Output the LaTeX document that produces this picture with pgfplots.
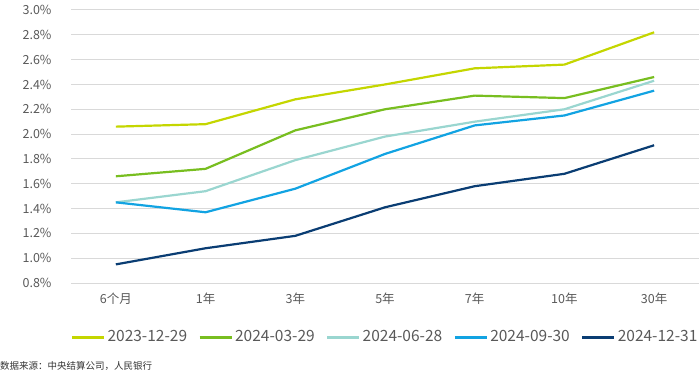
\documentclass[border=0pt]{standalone}
\usepackage{fontspec}
\setmainfont{Noto Sans CJK SC}
\usepackage{pgfplots}
\pgfplotsset{compat=1.18}
\definecolor{c1}{HTML}{C4D600}
\definecolor{c2}{HTML}{78BE20}
\definecolor{c3}{HTML}{9AD6D0}
\definecolor{c4}{HTML}{12A3E2}
\definecolor{c5}{HTML}{0A3D73}
\definecolor{tickgray}{HTML}{595959}
\definecolor{gridgray}{HTML}{D9D9D9}
\pgfplotstableread{
x s1 s2 s3 s4 s5
0 2.06 1.66 1.45 1.45 0.95
1 2.08 1.72 1.54 1.37 1.08
2 2.28 2.03 1.79 1.56 1.18
3 2.40 2.20 1.98 1.84 1.41
4 2.53 2.31 2.10 2.07 1.58
5 2.56 2.29 2.20 2.15 1.68
6 2.82 2.46 2.43 2.35 1.91
}\curves
\begin{document}
\begin{tikzpicture}
\useasboundingbox (-71bp,-92bp) rectangle (629bp,283bp);
\begin{axis}[
  at={(0,0)}, anchor=south west,
  scale only axis, width=628bp, height=273bp,
  xmin=-0.5, xmax=6.5, ymin=0.8, ymax=3.0,
  xtick={0,...,6},
  xticklabels={6个月,1年,3年,5年,7年,10年,30年},
  ytick={0.8,1.0,...,3.01},
  yticklabel={\pgfmathprintnumber[fixed,precision=1,zerofill]{\tick}\%},
  /pgf/number format/assume math mode=true,
  axis line style={draw=none},
  major tick length=0pt,
  ymajorgrids, grid style={gridgray, line width=1bp},
  ticklabel style={font=\fontsize{12.5bp}{14bp}\selectfont, text=tickgray},
  yticklabel style={xshift=-16bp},
  xticklabel style={yshift=-6bp},
  legend style={at={(0.5,-0.198)}, anchor=center, draw=none, fill=none,
    legend columns=5, font=\fontsize{15.5bp}{17bp}\selectfont, text=tickgray,
    /tikz/every even column/.append style={column sep=9bp}},
  legend image code/.code={\draw[#1, line width=3bp] (0bp,0bp) -- (32bp,0bp);},
  every axis plot/.append style={line width=2.2bp, line join=round},
]
\addplot[c1] table[x=x,y=s1]{\curves};
\addlegendentry{2023-12-29}
\addplot[c2] table[x=x,y=s2]{\curves};
\addlegendentry{2024-03-29}
\addplot[c3] table[x=x,y=s3]{\curves};
\addlegendentry{2024-06-28}
\addplot[c4] table[x=x,y=s4]{\curves};
\addlegendentry{2024-09-30}
\addplot[c5] table[x=x,y=s5]{\curves};
\addlegendentry{2024-12-31}
\end{axis}
\node[anchor=west, inner sep=0pt, font=\fontsize{9.5bp}{11bp}\selectfont, text=black!80] at (-71bp,-83bp) {数据来源：中央结算公司，人民银行};
\end{tikzpicture}
\end{document}
